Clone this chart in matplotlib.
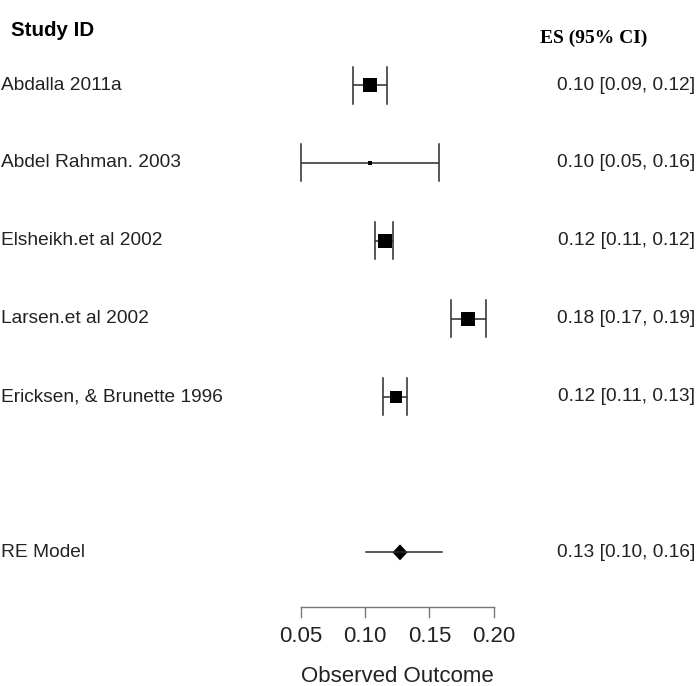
import matplotlib
matplotlib.use("Agg")
import matplotlib.pyplot as plt
import numpy as np
from matplotlib.transforms import blended_transform_factory

studies = ["Abdalla 2011a", "Abdel Rahman. 2003", "Elsheikh.et al 2002",
           "Larsen.et al 2002", "Ericksen, & Brunette 1996"]
es = [0.104, 0.1037, 0.1154, 0.1803, 0.1236]
ci_low = [0.0907, 0.0500, 0.1080, 0.1666, 0.1136]
ci_high = [0.1172, 0.1577, 0.1217, 0.1938, 0.1323]
weights = [25.1, 2.4, 27.0, 25.1, 21.4]
es_labels = ["0.10 [0.09, 0.12]", "0.10 [0.05, 0.16]", "0.12 [0.11, 0.12]",
             "0.18 [0.17, 0.19]", "0.12 [0.11, 0.13]"]
re_label = "RE Model"
re_es, re_low, re_high = 0.1271, 0.1006, 0.1596
re_text = "0.13 [0.10, 0.16]"
xticks = [0.05, 0.10, 0.15, 0.20]
xtick_labels = ["0.05", "0.10", "0.15", "0.20"]

W, H = 697, 686
fig = plt.figure(figsize=(W / 100, H / 100), dpi=100)
ax = fig.add_axes([0, 0, 1, 1])
ax.axis("off")

# pixel mapping
px_per_unit = 1284.0
x0 = 0.05 - 301 / px_per_unit
x1 = 0.05 + (W - 301) / px_per_unit
ax.set_xlim(x0, x1)
row0, rowstep = 85.0, 77.9
def ypix(p):
    return (p - row0) / rowstep
ax.set_ylim(ypix(H), ypix(0))

sans = "Liberation Sans"
lc = "#2a2a2a"
tc = "#222222"
lw = 1.1
cap = 18.5 / rowstep

trans_ax = blended_transform_factory(ax.transAxes, ax.transData)

for i, (name, e, lo, hi, w, lab) in enumerate(zip(studies, es, ci_low, ci_high, weights, es_labels)):
    ax.plot([lo, hi], [i, i], color=lc, lw=lw, solid_capstyle="butt")
    ax.plot([lo, lo], [i - cap, i + cap], color=lc, lw=lw)
    ax.plot([hi, hi], [i - cap, i + cap], color=lc, lw=lw)
    size_px = 13.5 * np.sqrt(w / 27.0)
    ax.plot([e], [i], marker="s", color="black", markersize=size_px * 0.72, markeredgewidth=0)
    ax.text(1 / W, i, name, transform=trans_ax, ha="left", va="center",
            fontsize=13.8, family=sans, color=tc)
    ax.text(695 / W, i, lab, transform=trans_ax, ha="right", va="center",
            fontsize=13.8, family=sans, color=tc)

# RE model
yre = 6
ax.plot([re_low, re_high], [yre, yre], color=lc, lw=lw)
dh = 8 / rowstep
dw = 7.5 / px_per_unit
ax.fill([re_es - dw, re_es, re_es + dw, re_es], [yre, yre - dh, yre, yre + dh],
        color="black", lw=0)
ax.text(1 / W, yre, re_label, transform=trans_ax, ha="left", va="center",
        fontsize=13.8, family=sans, color=tc)
ax.text(695 / W, yre, re_text, transform=trans_ax, ha="right", va="center",
        fontsize=13.8, family=sans, color=tc)

# headers
ax.text(11 / W, ypix(30), "Study ID", transform=trans_ax, ha="left", va="center",
        fontsize=14.8, family=sans, fontweight="bold", color="black")
ax.text(540 / W, ypix(38), "ES (95% CI)", transform=trans_ax, ha="left", va="center",
        fontsize=14, family="Liberation Serif", fontweight="bold", color="black")

# x axis
axis_y = ypix(607.3)
tick_y = ypix(616.7)
acol = "#777777"
ax.plot([xticks[0], xticks[-1]], [axis_y, axis_y], color=acol, lw=1.0)
for t, tl in zip(xticks, xtick_labels):
    ax.plot([t, t], [axis_y, tick_y], color=acol, lw=1.0)
    ax.text(t, ypix(636.7), tl, ha="center", va="center", fontsize=16,
            family=sans, color=tc)
ax.text((xticks[0] + xticks[-1]) / 2, ypix(677), "Observed Outcome", ha="center",
        va="center", fontsize=16, family=sans, color=tc)

fig.savefig("out.png", dpi=100)
